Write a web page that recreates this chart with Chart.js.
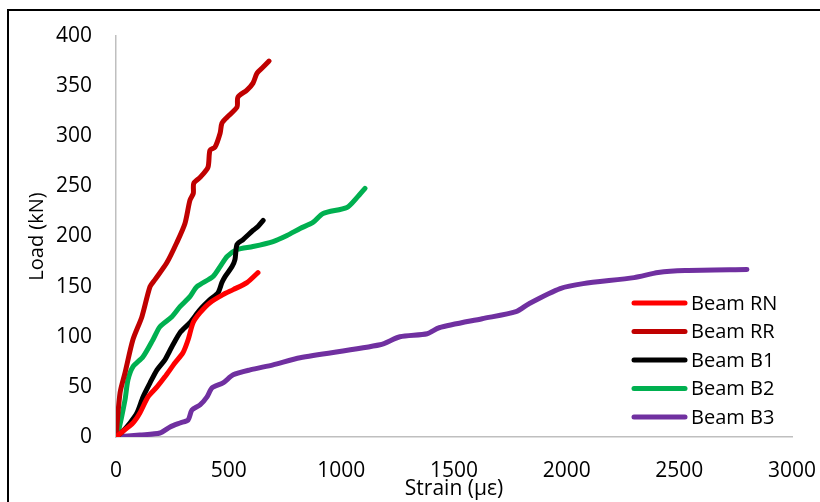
<!DOCTYPE html>
<html>
<head>
<meta charset="utf-8">
<script src="https://cdn.jsdelivr.net/npm/chart.js@4"></script>
<style>
  html, body { margin: 0; padding: 0; background: #fff; }
  #wrap { width: 820px; height: 502px; }
</style>
</head>
<body>
<div id="wrap"><canvas id="chart" width="820" height="502"></canvas></div>
<script>
// strain (micro-strain) / load (kN) pairs
const rnStrain = [0, 27, 75, 106, 142, 182, 217, 262, 297, 320, 342, 373, 417, 475, 520, 581, 630];
const rnLoad   = [0, 5, 14, 24, 40, 50, 60, 74, 84, 97, 114, 124, 134, 142, 147, 154, 164];

const rrStrain = [0, 18, 40, 75, 115, 151, 173, 226, 270, 306, 328, 343, 345, 373, 408, 417, 439, 462, 470, 493, 537, 541, 581, 608, 626, 653, 679];
const rrLoad   = [0, 44, 64, 97, 120, 150, 157, 174, 194, 213, 236, 243, 253, 259, 269, 286, 289, 303, 313, 319, 329, 339, 346, 353, 363, 369, 375];

const b1Strain = [0, 27, 62, 93, 120, 151, 182, 217, 248, 284, 328, 373, 417, 453, 470, 484, 515, 528, 537, 564, 608, 630, 653];
const b1Load   = [0, 5, 14, 24, 40, 54, 67, 77, 90, 104, 114, 127, 137, 144, 154, 160, 170, 177, 192, 197, 206, 210, 216];

const b2Strain = [0, 9, 40, 53, 75, 120, 164, 195, 248, 284, 328, 359, 430, 462, 493, 537, 608, 697, 759, 817, 874, 919, 1025, 1070, 1105];
const b2Load   = [0, 4, 37, 57, 70, 80, 97, 110, 120, 130, 140, 150, 160, 170, 180, 187, 190, 195, 201, 208, 214, 223, 229, 239, 248];

const b3Strain = [0, 106, 195, 240, 284, 320, 337, 373, 404, 426, 475, 520, 595, 697, 817, 1172, 1260, 1381, 1434, 1625, 1775, 1833, 1971, 2073, 2299, 2406, 2526, 2800];
const b3Load   = [0, 2, 4, 10, 14, 17, 27, 32, 40, 49, 54, 62, 67, 72, 79, 92, 100, 103, 109, 118, 125, 133, 148, 153, 159, 164, 166, 167];

const seriesNames = ['Beam RN', 'Beam RR', 'Beam B1', 'Beam B2', 'Beam B3'];
const seriesColors = ['#ff0000', '#c00000', '#000000', '#00b050', '#7030a0'];

const toPoints = (xs, ys) => xs.map((x, i) => ({ x: x, y: ys[i] }));
const allSeries = [
  toPoints(rnStrain, rnLoad),
  toPoints(rrStrain, rrLoad),
  toPoints(b1Strain, b1Load),
  toPoints(b2Strain, b2Load),
  toPoints(b3Strain, b3Load),
];

const FONT = 'Open Sans';

// white background plus the black frame on the left/top edges
const framePlugin = {
  id: 'frame',
  beforeDraw(chart) {
    const ctx = chart.ctx;
    ctx.save();
    ctx.fillStyle = '#fff';
    ctx.fillRect(0, 0, chart.width, chart.height);
    ctx.strokeStyle = '#000';
    ctx.lineWidth = 2;
    ctx.beginPath();
    ctx.moveTo(8, chart.height);
    ctx.lineTo(8, 10);
    ctx.lineTo(chart.width, 10);
    ctx.stroke();
    ctx.restore();
  }
};

// legend sitting inside the plot, lower right
const legendPlugin = {
  id: 'innerLegend',
  afterDraw(chart) {
    const ctx = chart.ctx;
    ctx.save();
    ctx.font = '20px "' + FONT + '"';
    ctx.textBaseline = 'middle';
    ctx.lineCap = 'round';
    chart.data.datasets.forEach((ds, i) => {
      const y = 303 + i * 28.5;
      ctx.strokeStyle = ds.borderColor;
      ctx.lineWidth = 5;
      ctx.beginPath();
      ctx.moveTo(634, y);
      ctx.lineTo(685, y);
      ctx.stroke();
      ctx.fillStyle = '#000';
      ctx.fillText(ds.label, 691, y + 1);
    });
    ctx.restore();
  }
};

new Chart(document.getElementById('chart'), {
  type: 'line',
  data: {
    datasets: seriesNames.map((name, i) => ({
      label: name,
      data: allSeries[i],
      borderColor: seriesColors[i],
      backgroundColor: seriesColors[i],
      borderWidth: 5,
      borderCapStyle: 'round',
      borderJoinStyle: 'round',
      pointRadius: 0,
      tension: 0.25,
      fill: false,
    }))
  },
  options: {
    responsive: false,
    animation: false,
    events: [],
    layout: { padding: { top: 36, right: 28, bottom: 0, left: 0 } },
    plugins: {
      legend: { display: false },
      tooltip: { enabled: false },
    },
    scales: {
      x: {
        type: 'linear',
        min: 0,
        max: 3000,
        grid: { display: false },
        border: { display: true, color: '#bfbfbf', width: 1.5 },
        ticks: {
          stepSize: 500,
          padding: 13,
          color: '#000',
          maxRotation: 0,
          font: { family: FONT, size: 21 },
          callback: (v) => String(v),
        },
        title: {
          display: true,
          text: 'Strain (µε)',
          color: '#000',
          padding: 0,
          font: { family: FONT, size: 21 },
        },
        afterFit(scale) {
          scale.height = 65;
          scale.paddingLeft = 0;
          scale.paddingRight = 0;
        },
      },
      y: {
        type: 'linear',
        min: 0,
        max: 400,
        grid: { display: false },
        border: { display: true, color: '#bfbfbf', width: 1.5 },
        ticks: {
          stepSize: 50,
          padding: 16,
          color: '#000',
          font: { family: FONT, size: 21 },
          callback: (v) => String(v),
        },
        title: {
          display: true,
          text: 'Load (kN)',
          color: '#000',
          padding: { top: 25, bottom: 0 },
          font: { family: FONT, size: 20 },
        },
        afterFit(scale) {
          scale.width = 116;
          scale.paddingTop = 0;
          scale.paddingBottom = 0;
        },
      },
    },
  },
  plugins: [framePlugin, legendPlugin],
});
</script>
</body>
</html>
